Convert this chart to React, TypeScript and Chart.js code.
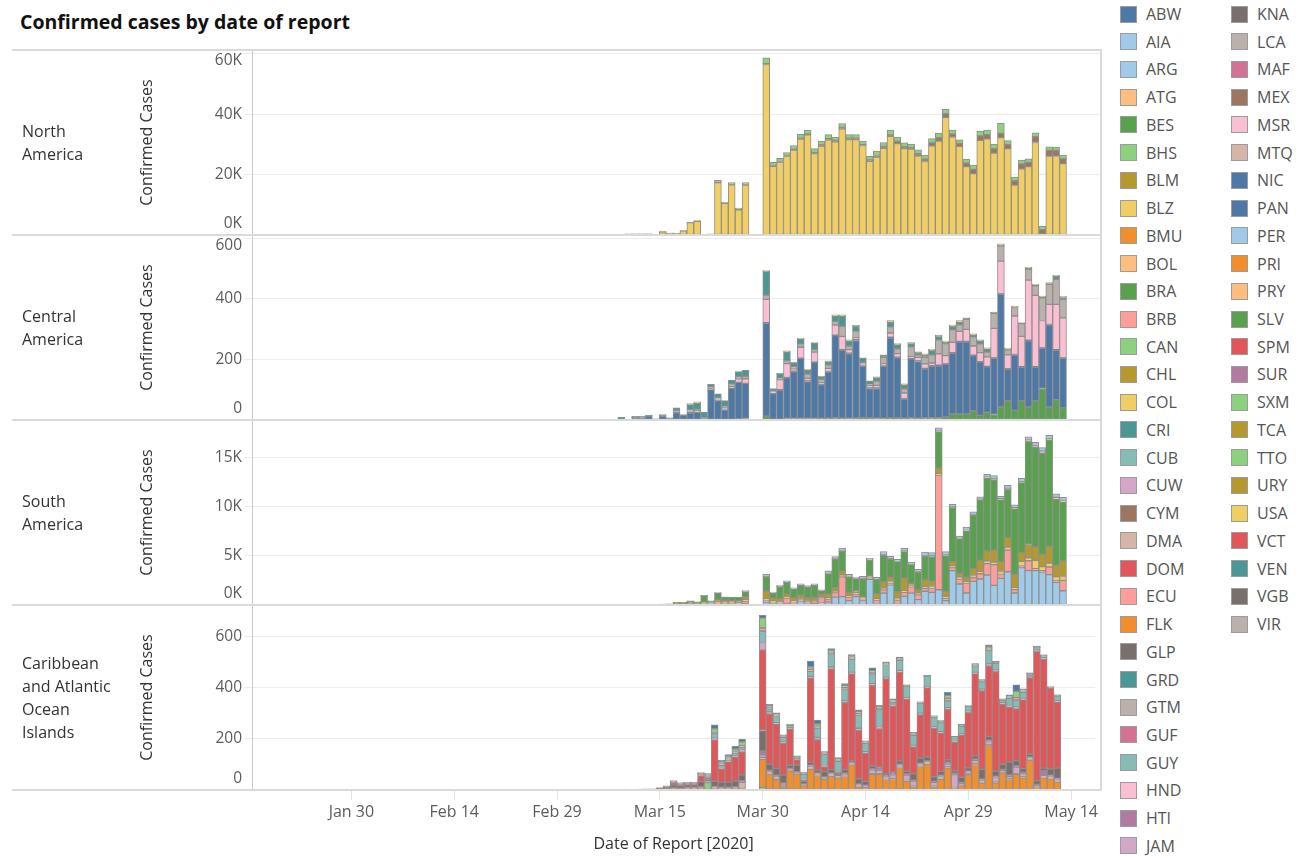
import { useEffect, useRef } from "react";
import { Chart, registerables } from "chart.js";

Chart.register(...registerables);

const FONT = "'Open Sans', 'Noto Sans', 'DejaVu Sans', sans-serif";

// ---------- x categories (one per day) ----------
const AXIS_FIRST_DAY = Date.UTC(2020, 0, 16);
const AXIS_DAY_COUNT = 123;
const DATA_FIRST_INDEX = 53; // series below start on Mar 9, 2020
const MONTHS = ["Jan", "Feb", "Mar", "Apr", "May"];
const dayLabels: string[] = Array.from({ length: AXIS_DAY_COUNT }, (_, i) => {
  const d = new Date(AXIS_FIRST_DAY + i * 86400000);
  return `${MONTHS[d.getUTCMonth()]} ${d.getUTCDate()}`;
});
const xTickLabels = ["Jan 30", "Feb 14", "Feb 29", "Mar 15", "Mar 30", "Apr 14", "Apr 29", "May 14"];

// ---------- North America (Mar 9 .. May 12) ----------
const usaCases = [0,340,335,330,315,0,1030,580,550,1360,4100,4560,0,280,17340,10450,16630,8300,16550,0,0,56400,
  22750,24120,26100,28100,31700,33150,26900,29450,31500,30850,
  35100,31550,31560,29600,24350,25750,28700,32650,30250,28600,
  28400,26200,24300,29500,31100,38900,32500,29300,22600,20300,
  31300,31800,27100,32200,28600,16500,21900,22600,30600,300,
  26100,26200,23600];
const mexCases = [0,0,0,0,5,0,20,20,30,40,50,40,0,10,60,50,70,100,150,0,0,300,
  250,180,200,300,300,250,300,350,400,450,
  500,450,440,300,450,550,600,450,750,600,
  500,700,800,1000,1100,1200,900,1000,1200,1400,
  1500,1400,1500,1400,1300,1400,1600,1400,1900,1500,
  1900,1800,1600];
const canCases = [0,10,15,20,30,0,50,60,80,100,150,200,0,10,700,300,600,500,600,0,0,1900,
  1000,1100,1000,1200,1300,1300,1400,1300,1300,1100,
  1300,1200,1200,1200,1200,1500,1300,1600,1400,1300,
  1200,1300,1300,1400,1500,1500,1300,1200,1300,1400,
  1600,1500,1500,3400,1300,1300,1300,1200,1300,1100,
  1200,1100,1200];

// ---------- Central America ----------
const slvCases = [0,0,0,0,0,0,0,0,0,0,0,0,0,0,0,0,0,4,5,0,0,13,
  3,3,5,5,5,5,5,6,6,8,6,5,7,7,7,5,6,7,7,6,8,6,8,8,8,10,20,20,20,30,15,25,18,43,63,32,63,43,63,104,43,67,40];
const panCases = [0,0,8,6,13,0,12,5,24,15,23,25,5,100,64,33,105,120,116,0,0,305,
  84,95,134,155,198,122,184,110,152,270,224,212,255,170,97,99,171,263,198,63,194,187,160,169,170,174,200,237,237,182,176,150,185,371,104,182,111,217,111,132,270,163,163];
const nicCases = [0,0,0,0,0,0,0,0,0,0,2,0,0,0,0,0,0,0,0,0,0,3,
  1,2,1,1,1,2,2,1,2,2,2,3,3,2,2,2,2,3,2,2,2,2,2,2,3,1,2,2,2,2,1,2,2,2,2,2,2,3,2,2,2,2,2];
const hndCases = [0,0,0,2,0,0,0,0,0,0,3,6,0,2,5,7,6,12,15,0,0,77,
  5,33,46,8,36,8,33,5,10,33,44,12,6,5,8,8,6,14,12,18,5,12,15,9,37,27,34,33,40,30,30,31,97,108,46,127,100,198,235,90,66,149,132];
const gtmCases = [0,0,0,0,0,0,2,0,8,0,6,4,3,8,5,6,6,6,8,0,0,14,
  3,5,10,6,9,14,9,12,12,12,33,12,22,6,4,14,22,18,16,14,30,8,22,27,44,40,42,22,33,28,29,16,50,50,16,28,42,36,31,75,66,83,61];
const criCases = [9,0,4,4,3,4,4,2,8,3,17,20,18,8,12,18,15,18,20,0,0,77,
  8,15,28,14,18,14,20,9,11,18,34,16,15,13,10,12,6,16,13,12,12,7,7,14,12,5,10,8,3,8,9,10,2,3,3,2,1,3,2,3,3,10,6];
const blzCases = [0,0,0,0,0,0,0,0,0,0,3,5,0,0,0,0,0,0,0,0,0,4,
  0,2,4,2,2,2,2,2,2,4,4,4,4,2,1,2,2,7,4,4,4,3,4,4,6,3,5,6,2,4,4,4,2,4,3,3,2,3,3,3,3,3,4];

// ---------- South America ----------
const perCases = [0,0,0,0,0,0,10,30,40,30,30,30,50,60,70,80,70,70,100,0,0,
  300,150,150,100,150,400,150,100,250,300,800,850,450,850,450,2600,150,1200,2050,150,
  880,1200,540,1400,1280,1550,440,3500,2130,1220,2400,2640,3050,2000,2700,3380,1220,3800,3500,3500,
  3300,3080,2300,1450];
const ecuCases = [0,0,0,0,0,0,0,10,40,30,40,60,100,60,150,100,100,80,300,0,0,
  200,150,100,600,150,150,200,250,500,250,450,2000,350,250,150,100,350,350,150,350,
  400,650,500,300,400,11650,200,300,500,1000,350,540,1150,2100,400,2200,350,150,1000,200,
  200,780,150,1050];
const colCases = [0,0,0,0,0,0,10,10,20,20,30,20,50,30,80,80,80,80,150,0,0,
  150,100,100,100,80,100,100,100,80,150,150,200,150,150,100,100,150,150,250,200,
  150,150,150,200,200,150,250,150,200,150,250,250,300,250,300,300,200,500,300,850,
  400,400,440,400];
const chlCases = [0,0,0,0,0,0,20,30,60,80,100,80,150,100,220,220,180,200,300,0,0,
  750,300,300,300,350,350,300,300,250,400,350,400,350,200,150,150,500,650,350,650,
  1300,200,350,650,550,550,500,450,400,450,700,1100,1000,1250,1000,950,1350,900,1350,1350,
  1250,1690,1150,1600];
const braCases = [0,0,0,0,0,0,50,40,100,100,200,100,600,150,700,300,350,350,500,0,0,
  1450,500,1200,1200,900,1000,1100,1250,350,2100,2900,2000,1600,1200,1800,1600,1450,2700,1850,3050,
  2700,1900,1800,2400,2500,3700,3600,5500,3500,4700,5400,6150,7400,7150,6300,4900,6650,7100,10450,10100,
  10300,10800,6700,5950];
const bolCases = [0,0,0,0,0,0,0,0,0,0,1,2,3,2,5,2,3,4,5,0,0,
  20,10,15,10,15,12,20,10,15,20,30,25,20,25,15,20,35,40,50,30,
  40,35,50,40,50,60,80,60,55,70,60,80,100,90,100,120,110,90,150,160,
  180,130,200,170];
const argCases = [0,0,0,0,0,0,10,0,20,10,20,20,30,20,40,40,30,30,100,0,0,
  250,100,150,150,100,150,100,150,100,250,250,300,200,150,250,180,170,350,250,200,
  300,230,240,390,340,350,350,270,230,320,300,240,280,300,250,300,300,330,330,360,
  370,350,350,330];

// ---------- Caribbean and Atlantic Ocean Islands ----------
const ttoCases = [0,0,0,0,0,0,0,2,2,2,2,2,3,29,2,2,2,2,2,0,0,10,
  3,3,3,3,3,2,3,2,2,3,2,3,2,2,2,2,2,2,2,3,2,2,2,2,2,2,2,2,2,2,2,2,3,2,2,2,2,2,2,2,2,2,2];
const priCases = [0,0,0,0,0,1,2,3,5,3,4,4,6,3,6,4,4,5,4,0,0,110,
  59,39,10,72,60,15,79,55,40,52,46,50,98,10,8,59,59,39,39,85,33,10,90,100,10,40,85,5,15,59,98,26,171,26,66,39,59,46,115,7,46,42,30];
const mtqCases = [0,0,0,0,0,0,0,0,0,0,0,0,0,0,0,0,0,0,24,0,0,8,
  4,4,4,3,2,2,3,2,2,3,2,3,2,3,2,3,3,3,3,3,3,3,3,3,3,3,3,3,3,3,3,3,3,3,3,3,3,3,3,3,3,3,3];
const jamCases = [0,0,0,0,0,0,0,0,0,0,2,2,2,2,3,2,2,3,3,0,0,10,
  5,6,5,3,3,2,5,4,4,5,3,5,3,4,3,15,13,5,13,5,20,20,5,5,15,8,13,50,5,6,13,5,13,18,5,10,26,13,5,5,5,6,6];
const htiCases = [0,0,0,0,0,0,0,0,2,2,2,2,2,2,3,3,3,3,4,0,0,15,
  6,6,6,4,4,3,6,5,4,5,3,5,3,5,4,5,5,5,5,5,5,4,5,5,4,5,5,5,5,5,5,5,5,5,5,5,5,5,5,5,20,5,5];
const glpCases = [0,2,0,2,3,2,3,5,10,10,10,10,20,8,20,20,20,22,22,0,0,80,
  24,27,30,12,26,10,12,10,20,12,8,14,6,20,15,10,8,8,8,12,10,25,20,15,18,15,10,10,20,12,13,40,15,20,20,50,20,15,10,15,10,25,40];
const domCases = [0,2,0,0,0,0,2,2,10,4,5,5,24,8,164,52,79,94,92,0,0,315,
  197,173,125,142,20,5,331,118,20,394,5,262,341,190,110,315,151,374,259,348,282,105,170,270,190,150,197,112,165,216,321,308,276,390,236,216,203,269,300,505,426,315,258];
const cuwCases = [0,0,0,0,0,0,0,0,2,2,2,2,3,2,5,5,4,4,5,0,0,30,
  8,6,5,4,3,2,6,10,4,8,4,8,6,8,6,8,8,6,6,8,6,6,6,6,5,6,8,3,5,6,6,6,8,6,5,6,8,6,6,6,6,4,5];
const cubCases = [0,0,0,2,2,2,2,4,4,4,2,2,4,4,18,10,8,12,10,0,0,45,
  12,24,18,10,10,21,20,37,45,52,39,46,52,52,33,39,66,46,10,39,46,39,40,40,39,35,26,20,30,20,26,30,52,26,10,28,26,24,10,10,8,3,20];
const brbCases = [0,0,0,0,0,0,0,0,2,2,2,2,2,2,5,4,4,6,8,0,0,12,
  6,5,4,2,2,2,8,6,3,6,4,5,4,6,3,5,5,4,3,4,2,4,2,1,2,3,10,0,3,1,3,3,6,3,2,5,10,4,1,2,2,0,2];
const bhsCases = [0,0,0,0,0,0,0,0,0,0,0,0,2,2,14,8,6,10,15,0,0,37,
  8,6,4,2,1,3,10,10,4,8,6,8,6,8,4,8,6,5,5,5,2,5,2,1,2,3,12,0,3,1,3,3,8,3,2,5,25,5,1,2,1,0,1];
const abwCases = [0,0,0,0,0,0,0,0,0,0,0,0,0,2,15,7,7,10,10,0,0,13,
  4,3,2,1,0,1,22,15,3,6,5,8,8,6,3,10,6,5,4,4,1,3,1,1,1,2,12,0,2,0,2,2,9,2,1,4,25,4,1,2,1,0,1];

// ---------- y axis ticks ----------
const naTicks = [0, 20000, 40000, 60000];
const naTickLabels = ["0K", "20K", "40K", "60K"];
const caTicks = [0, 200, 400, 600];
const caTickLabels = ["0", "200", "400", "600"];
const saTicks = [0, 5000, 10000, 15000];
const saTickLabels = ["0K", "5K", "10K", "15K"];
const cbTicks = [0, 200, 400, 600];
const cbTickLabels = ["0", "200", "400", "600"];

// ---------- legend ----------
const legendCol1 = ["ABW","AIA","ARG","ATG","BES","BHS","BLM","BLZ","BMU","BOL","BRA","BRB","CAN","CHL","COL","CRI","CUB","CUW","CYM","DMA","DOM","ECU","FLK","GLP","GRD","GTM","GUF","GUY","HND","HTI","JAM"];
const legendCol2 = ["KNA","LCA","MAF","MEX","MSR","MTQ","NIC","PAN","PER","PRI","PRY","SLV","SPM","SUR","SXM","TCA","TTO","URY","USA","VCT","VEN","VGB","VIR"];

const T = {
  blue: "#4e79a7", ltBlue: "#a0cbe8", orange: "#f28e2b", ltOrange: "#ffbe7d",
  green: "#59a14f", ltGreen: "#8cd17d", olive: "#b6992d", yellow: "#f1ce63",
  teal: "#499894", ltTeal: "#86bcb6", red: "#e15759", pink: "#ff9d9a",
  gray: "#79706e", ltGray: "#bab0ac", magenta: "#d37295", ltPink: "#fabfd2",
  purple: "#b07aa1", ltPurple: "#d4a6c8", brown: "#9d7660", ltBrown: "#d7b5a6",
};
const countryColors: Record<string, string> = {
  ABW: T.blue, AIA: T.ltBlue, ARG: T.ltBlue, ATG: T.ltOrange, BES: T.green, BHS: T.ltGreen,
  BLM: T.olive, BLZ: T.yellow, BMU: T.orange, BOL: T.ltOrange, BRA: T.green, BRB: T.pink,
  CAN: T.ltGreen, CHL: T.olive, COL: T.yellow, CRI: T.teal, CUB: T.ltTeal, CUW: T.ltPurple,
  CYM: T.brown, DMA: T.ltBrown, DOM: T.red, ECU: T.pink, FLK: T.orange, GLP: T.gray,
  GRD: T.teal, GTM: T.ltGray, GUF: T.magenta, GUY: T.ltTeal, HND: T.ltPink, HTI: T.purple,
  JAM: T.ltPurple, KNA: T.gray, LCA: T.ltGray, MAF: T.magenta, MEX: T.brown, MSR: T.ltPink,
  MTQ: T.ltBrown, NIC: T.blue, PAN: T.blue, PER: T.ltBlue, PRI: T.orange, PRY: T.ltOrange,
  SLV: T.green, SPM: T.red, SUR: T.purple, SXM: T.ltGreen, TCA: T.olive, TTO: T.ltGreen,
  URY: T.olive, USA: T.yellow, VCT: T.red, VEN: T.teal, VGB: T.gray, VIR: T.ltGray,
};

type Series = { code: string; values: number[] };
type PanelCfg = {
  label: string[];
  series: Series[];
  yMax: number;
  ticks: number[];
  tickLabels: string[];
};

const panels: PanelCfg[] = [
  {
    label: ["North", "America"],
    series: [
      { code: "USA", values: usaCases },
      { code: "MEX", values: mexCases },
      { code: "CAN", values: canCases },
    ],
    yMax: 61200, ticks: naTicks, tickLabels: naTickLabels,
  },
  {
    label: ["Central", "America"],
    series: [
      { code: "SLV", values: slvCases },
      { code: "PAN", values: panCases },
      { code: "NIC", values: nicCases },
      { code: "HND", values: hndCases },
      { code: "GTM", values: gtmCases },
      { code: "CRI", values: criCases },
      { code: "BLZ", values: blzCases },
    ],
    yMax: 610, ticks: caTicks, tickLabels: caTickLabels,
  },
  {
    label: ["South", "America"],
    series: [
      { code: "PER", values: perCases },
      { code: "ECU", values: ecuCases },
      { code: "COL", values: colCases },
      { code: "CHL", values: chlCases },
      { code: "BRA", values: braCases },
      { code: "BOL", values: bolCases },
      { code: "ARG", values: argCases },
    ],
    yMax: 18800, ticks: saTicks, tickLabels: saTickLabels,
  },
  {
    label: ["Caribbean", "and Atlantic", "Ocean", "Islands"],
    series: [
      { code: "TTO", values: ttoCases },
      { code: "PRI", values: priCases },
      { code: "MTQ", values: mtqCases },
      { code: "JAM", values: jamCases },
      { code: "HTI", values: htiCases },
      { code: "GLP", values: glpCases },
      { code: "DOM", values: domCases },
      { code: "CUW", values: cuwCases },
      { code: "CUB", values: cubCases },
      { code: "BRB", values: brbCases },
      { code: "BHS", values: bhsCases },
      { code: "ABW", values: abwCases },
    ],
    yMax: 725, ticks: cbTicks, tickLabels: cbTickLabels,
  },
];

const PANEL_TOP = 50;
const PANEL_H = 185;
const PLOT_LEFT = 252;
const PLOT_RIGHT = 1101;
const X_AXIS_H = 68;

function toFull(values: number[]) {
  const full: (number | null)[] = new Array(AXIS_DAY_COUNT).fill(null);
  values.forEach((v, i) => {
    full[DATA_FIRST_INDEX + i] = v > 0 ? v : null;
  });
  return full;
}

function Panel({ cfg, top, showX }: { cfg: PanelCfg; top: number; showX: boolean }) {
  const ref = useRef<HTMLCanvasElement>(null);
  const height = PANEL_H + (showX ? X_AXIS_H : 0);

  useEffect(() => {
    if (!ref.current) return;
    const decor = {
      id: "panelDecor",
      afterDraw(chart: any) {
        const ctx = chart.ctx;
        const y = chart.scales.y;
        const { top: t, bottom: b } = chart.chartArea;
        ctx.save();
        ctx.font = `15.5px ${FONT}`;
        ctx.fillStyle = "#5c5c5c";
        ctx.textAlign = "right";
        ctx.textBaseline = "middle";
        cfg.ticks.forEach((v, i) => {
          let py = y.getPixelForValue(v);
          py = Math.min(Math.max(py, t + 11), b - 11);
          ctx.fillText(cfg.tickLabels[i], 242, py);
        });
        ctx.translate(147, (t + b) / 2);
        ctx.rotate(-Math.PI / 2);
        ctx.textAlign = "center";
        ctx.fillStyle = "#333";
        ctx.font = `16px ${FONT}`;
        ctx.fillText("Confirmed Cases", 0, 0);
        ctx.restore();
      },
    };

    const chart = new Chart(ref.current, {
      type: "bar",
      data: {
        labels: dayLabels,
        datasets: cfg.series.map((s) => ({
          label: s.code,
          data: toFull(s.values),
          backgroundColor: countryColors[s.code],
          borderColor: "#8f8f8f",
          borderWidth: 1,
          borderSkipped: false,
          categoryPercentage: 1,
          barPercentage: 1,
        })),
      },
      options: {
        animation: false,
        responsive: false,
        maintainAspectRatio: false,
        layout: { padding: 0 },
        plugins: {
          legend: { display: false },
          tooltip: { enabled: false },
        },
        scales: {
          x: {
            stacked: true,
            display: showX,
            offset: true,
            grid: {
              display: true,
              drawOnChartArea: false,
              drawTicks: true,
              tickLength: 10,
              color: "#e2e2e2",
              offset: false,
            },
            border: { display: false },
            ticks: {
              autoSkip: false,
              maxRotation: 0,
              minRotation: 0,
              padding: 3,
              color: "#5c5c5c",
              font: { family: FONT, size: 16 },
              callback: (_v: any, index: number) =>
                xTickLabels.includes(dayLabels[index]) ? dayLabels[index] : null,
            },
            title: {
              display: true,
              text: "Date of Report [2020]",
              color: "#333",
              font: { family: FONT, size: 16 },
              padding: { top: 2, bottom: 4 },
            },
            afterFit: (s: any) => {
              s.height = showX ? X_AXIS_H : 0;
            },
          },
          y: {
            stacked: true,
            min: 0,
            max: cfg.yMax,
            afterBuildTicks: (s: any) => {
              s.ticks = cfg.ticks.map((v) => ({ value: v }));
            },
            afterFit: (s: any) => {
              s.width = PLOT_LEFT;
            },
            ticks: { display: false },
            grid: { color: "#ececec", tickLength: 8, lineWidth: 1 },
            border: { display: true, color: "#c8c8c8", width: 1 },
          },
        },
      },
      plugins: [decor],
    } as any);
    return () => chart.destroy();
  }, [cfg, showX]);

  return (
    <canvas
      ref={ref}
      width={PLOT_RIGHT}
      height={height}
      style={{ position: "absolute", left: 0, top, width: PLOT_RIGHT, height }}
    />
  );
}

function LegendItem({ code, left, center }: { code: string; left: number; center: number }) {
  return (
    <div
      style={{
        position: "absolute",
        left,
        top: center - 10,
        height: 20,
        display: "flex",
        alignItems: "center",
        whiteSpace: "nowrap",
      }}
    >
      <div
        style={{
          width: 15,
          height: 15,
          border: "1px solid #9c9c9c",
          background: countryColors[code],
          marginRight: 9,
        }}
      />
      <span style={{ fontSize: 16, color: "#555", lineHeight: "20px" }}>{code}</span>
    </div>
  );
}

export default function App() {
  const lineYs = [0, 1, 2, 3, 4].map((i) => PANEL_TOP + i * PANEL_H);
  return (
    <div
      style={{
        position: "absolute",
        left: 0,
        top: 0,
        width: 1309,
        height: 858,
        overflow: "hidden",
        background: "#fff",
        fontFamily: FONT,
      }}
    >
      <div
        style={{
          position: "absolute",
          left: 20,
          top: 8,
          fontSize: 19.5,
          fontWeight: 700,
          color: "#111",
          lineHeight: "28px",
          whiteSpace: "nowrap",
        }}
      >
        Confirmed cases by date of report
      </div>

      {panels.map((p, i) => (
        <Panel key={i} cfg={p} top={PANEL_TOP + i * PANEL_H} showX={i === panels.length - 1} />
      ))}

      {panels.map((p, i) => (
        <div
          key={"lab" + i}
          style={{
            position: "absolute",
            left: 22,
            top: PANEL_TOP + i * PANEL_H,
            height: PANEL_H,
            display: "flex",
            alignItems: "center",
            fontSize: 16,
            lineHeight: "23px",
            color: "#333",
          }}
        >
          <div>
            {p.label.map((l, j) => (
              <div key={j}>{l}</div>
            ))}
          </div>
        </div>
      ))}

      {lineYs.map((y, i) => (
        <div
          key={"ln" + i}
          style={{
            position: "absolute",
            left: 12,
            top: y - 1,
            width: PLOT_RIGHT - 12,
            height: 2,
            background: "#dadada",
          }}
        />
      ))}
      <div
        style={{
          position: "absolute",
          left: PLOT_RIGHT - 1,
          top: PANEL_TOP - 1,
          width: 2,
          height: PANEL_H * 4 + 2,
          background: "#dadada",
        }}
      />

      {legendCol1.map((c, i) => (
        <LegendItem key={c} code={c} left={1120} center={14 + i * 27.73} />
      ))}
      {legendCol2.map((c, i) => (
        <LegendItem key={c} code={c} left={1231} center={14 + i * 27.73} />
      ))}
    </div>
  );
}
